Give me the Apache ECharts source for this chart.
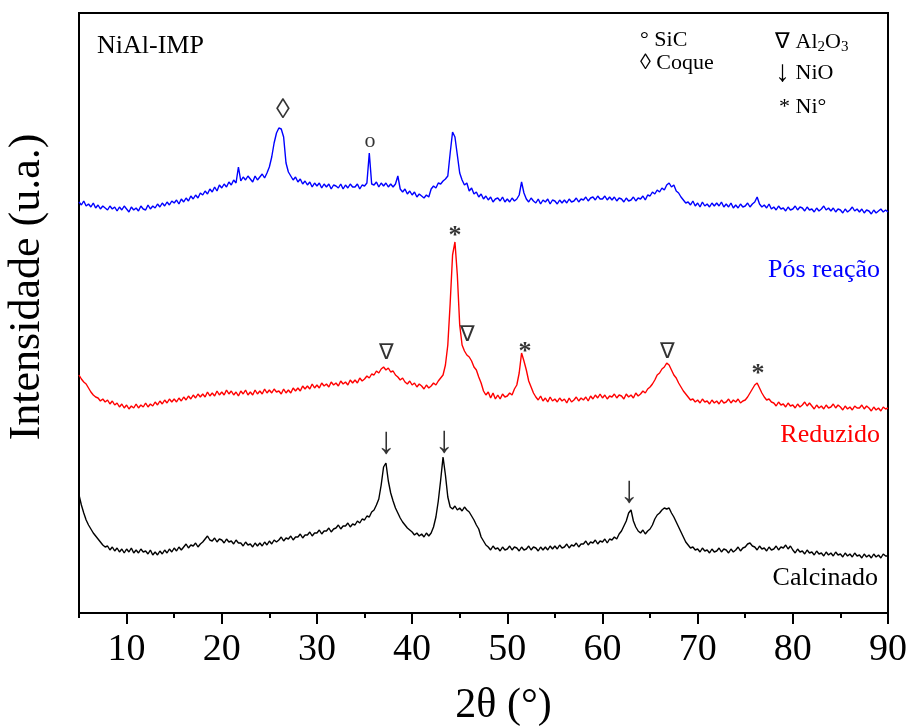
<!DOCTYPE html>
<html>
<head>
<meta charset="utf-8">
<script src="https://cdn.jsdelivr.net/npm/echarts@6/dist/echarts.min.js"></script>
<style>
  html, body { margin: 0; padding: 0; background: #fff; }
  #chart { width: 909px; height: 726px; }
</style>
</head>
<body>
<div id="chart"></div>
<script>
// XRD patterns of the NiAl-IMP catalyst (stacked, arbitrary intensity units)
// Scan grid: 5° to 90° (2θ) in 0.25° steps
const scanStart = 5;
const scanStep = 0.25;

// Calcined sample (bottom trace)
const calcinado = [
  118,108,100,93, 88,84,80,77, 74,71,68,66, 67,63,66,62, 65,61,64,60,
  64,61,65,60, 63,60,64,61, 62,59,63,58, 61,58,62,59, 63,60,64,61,
  65,62,66,63, 66,69,65,68, 67,70,66,69, 71,74,77,73, 72,75,71,74,
  73,70,74,71, 72,69,73,70, 70,67,71,68, 69,66,70,67, 70,67,71,68,
  72,69,73,71, 73,76,72,75, 74,77,73,76, 76,79,75,78, 78,81,77,80,
  80,83,79,82, 82,85,81,84, 85,88,84,87, 87,90,86,89, 88,92,90,94,
  93,97,96,101, 103,108,114,128, 146,150,132,120, 112,105,100,95, 91,88,85,83,
  81,78,80,77, 79,76,80,77, 80,86,96,112, 133,156,138,116, 106,104,107,103,
  105,102,106,103, 101,97,93,88, 84,76,72,68, 66,63,67,64, 65,62,66,63,
  64,67,63,66, 65,62,66,63, 64,67,63,66, 65,62,66,63, 66,63,67,64,
  67,64,68,65, 66,69,65,68, 67,70,66,69, 69,72,68,71, 70,73,69,72,
  71,74,70,74, 73,76,74,79, 82,87,92,100, 103,92,86,82, 80,83,79,82,
  84,88,94,98, 100,103,105,104, 105,100,96,91, 86,81,76,71, 68,65,66,63,
  64,61,65,62, 63,60,64,61, 62,65,61,64, 63,60,64,61, 63,66,62,65,
  66,69,70,67, 66,63,67,64, 65,62,66,63, 64,67,63,66, 65,68,64,67,
  63,60,64,61, 62,59,63,60, 61,58,62,59, 60,57,61,58, 60,57,61,58,
  59,56,60,57, 59,56,60,57, 58,55,59,56, 58,55,59,56, 58,55,59,57,
  57
];

// Reduced sample (middle trace)
const reduzido = [
  238,234,231,229, 225,221,218,216, 215,212,214,211, 213,209,212,208, 210,206,209,205,
  208,204,207,205, 209,205,208,206, 210,206,209,207, 211,208,212,209, 213,210,214,211,
  214,211,215,212, 216,213,217,214, 218,215,219,216, 219,216,221,217, 220,217,222,218,
  221,218,223,219, 222,218,221,217, 222,219,223,218, 221,218,223,219, 222,219,224,220,
  223,220,224,221, 222,219,224,220, 223,220,225,222, 225,222,227,224, 227,224,229,225,
  228,225,230,227, 229,226,231,228, 230,227,232,229, 231,228,233,230, 233,230,235,232,
  234,237,235,239, 238,242,240,244, 246,243,245,241, 242,238,236,233, 235,231,229,232,
  228,230,226,229, 227,224,228,225, 227,230,228,232, 235,238,248,268, 310,358,371,338,
  288,268,262,258, 256,252,246,243, 236,230,222,218, 221,215,220,214, 218,214,219,216,
  217,220,218,224, 228,240,260,252, 243,232,226,220, 216,213,217,212, 215,211,216,212,
  214,211,215,212, 214,210,215,211, 213,216,212,215, 213,216,212,217, 214,218,215,219,
  215,218,214,217, 216,219,215,218, 217,214,219,216, 218,215,220,217, 219,222,220,224,
  226,229,233,238, 240,244,246,250, 248,243,238,235, 230,226,222,219, 216,213,214,211,
  213,210,214,211, 212,209,213,210, 212,209,213,210, 211,214,210,213, 211,214,210,212,
  213,216,220,224, 228,230,225,220, 216,213,214,211, 210,207,211,208, 209,206,210,207,
  208,205,209,206, 208,211,207,210, 207,204,208,205, 207,204,208,205, 206,209,205,208,
  206,203,207,204, 206,203,207,205, 205,208,204,207, 205,202,206,203, 205,202,206,204,
  205
];

// After reaction (top trace)
const posReacao = [
  411,408,412,407, 409,406,410,405, 408,404,407,405, 403,407,404,406, 402,406,403,407,
  404,401,406,403, 405,402,407,404, 403,408,404,407, 405,409,406,410, 407,411,408,412,
  410,413,409,414, 411,415,412,417, 414,418,415,420, 418,422,419,424, 421,426,422,428,
  425,429,426,431, 428,433,430,446, 432,436,433,437, 434,431,437,433, 436,439,435,440,
  446,456,470,480, 485,484,476,450, 441,437,433,436, 431,434,429,432, 428,431,426,430,
  427,430,425,429, 426,429,424,428, 427,425,429,424, 428,425,429,426, 426,429,424,428,
  427,430,460,429, 428,431,426,430, 427,430,426,429, 426,429,437,424, 421,424,419,422,
  418,421,416,419, 417,415,418,416, 424,427,425,430, 429,432,434,437, 460,481,476,458,
  440,433,428,430, 422,425,419,421, 416,419,414,417, 413,416,411,414, 415,412,416,411,
  414,411,415,412, 414,418,431,420, 414,411,415,412, 410,414,409,413, 411,414,409,413,
  412,409,413,410, 413,410,414,411, 412,415,411,414, 413,416,412,415, 416,413,417,414,
  414,417,413,416, 413,416,412,415, 414,411,415,412, 413,416,412,415, 414,417,413,418,
  417,421,419,423, 421,425,423,428, 430,426,428,422, 420,416,413,410, 411,408,412,407,
  410,406,411,407, 409,406,410,407, 410,407,411,406, 409,406,410,405, 408,405,409,406,
  407,410,406,409, 411,416,409,406, 408,405,409,404, 406,403,407,404, 405,402,406,403,
  404,407,403,406, 405,402,406,403, 404,401,405,402, 404,407,403,405, 402,405,401,404,
  403,400,404,401, 403,406,402,404, 401,404,400,403, 402,399,403,400, 402,404,401,403,
  401
];

// Tick values of the 2θ axis
const majorTicks = [10, 20, 30, 40, 50, 60, 70, 80, 90];
const minorTicks = [5, 15, 25, 35, 45, 55, 65, 75, 85];

// Phase markers placed above the reflections
const markAngles  = [26.43, 35.57, 44.5, 37.26, 45.87, 51.86, 66.78, 76.34, 37.26, 43.35, 62.79];
const markHeights = [502,   472,   377,  260,   278,   261,   261,   239,   170,   171,   121];
const markSymbols = ['◊',  'o',   '*',  '∇',   '∇',   '*',   '∇',   '*',   '↓',   '↓',   '↓'];
const markFontSizes = { '◊': 28, 'o': 22, '*': 26, '∇': 22, '↓': 38 };

const serif = "'Liberation Serif', 'Times New Roman', serif";
const angles = calcinado.map((_, i) => scanStart + i * scanStep);
const toPairs = vals => vals.map((v, i) => [angles[i], v]);

const chart = echarts.init(document.getElementById('chart'), null, { renderer: 'canvas' });

const markData = markAngles.map((a, i) => ({
  value: [a, markHeights[i]],
  label: {
    formatter: markSymbols[i],
    fontSize: markFontSizes[markSymbols[i]],
    fontWeight: markSymbols[i] === '*' ? 'bold' : 'normal'
  }
}));

const lineSeries = (name, vals, color) => ({
  name,
  type: 'line',
  data: toPairs(vals),
  showSymbol: false,
  symbol: 'none',
  lineStyle: { color, width: 1.4 },
  itemStyle: { color },
  silent: true,
  z: 3
});

chart.setOption({
  animation: false,
  backgroundColor: '#fff',
  grid: {
    left: 79, right: 21, top: 13, bottom: 113,
    containLabel: false, outerBoundsMode: 'none',
    show: true, borderColor: '#000', borderWidth: 2, backgroundColor: 'transparent'
  },
  xAxis: [
    {
      type: 'value', min: 5, max: 90,
      name: '2θ (°)', nameLocation: 'middle', nameGap: 72,
      nameTextStyle: { fontFamily: serif, fontSize: 42, color: '#000', padding: [0, 0, 0, 40] },
      axisLine: { show: true, onZero: false, lineStyle: { color: '#000', width: 2 } },
      axisTick: { show: true, inside: false, length: 11, lineStyle: { color: '#000', width: 2 }, customValues: majorTicks },
      axisLabel: { show: true, margin: 18, fontFamily: serif, fontSize: 38, color: '#000', customValues: majorTicks },
      splitLine: { show: false }
    },
    {
      type: 'value', min: 5, max: 90, position: 'bottom',
      axisLine: { show: false },
      axisTick: { show: true, inside: false, length: 5, lineStyle: { color: '#000', width: 2 }, customValues: minorTicks },
      axisLabel: { show: false },
      splitLine: { show: false }
    }
  ],
  yAxis: {
    type: 'value', min: 0, max: 600,
    name: 'Intensidade (u.a.)', nameLocation: 'middle', nameGap: 30,
    nameTextStyle: { fontFamily: serif, fontSize: 44, color: '#000', padding: [0, 0, 0, 52] },
    axisLine: { show: true, onZero: false, lineStyle: { color: '#000', width: 2 } },
    axisTick: { show: false },
    axisLabel: { show: false },
    splitLine: { show: false }
  },
  series: [
    lineSeries('Calcinado', calcinado, '#000000'),
    lineSeries('Reduzido', reduzido, '#ff0000'),
    lineSeries('Pós reação', posReacao, '#0000ff'),
    {
      name: 'fases',
      type: 'scatter',
      data: markData,
      symbolSize: 0,
      silent: true,
      z: 4,
      label: {
        show: true, position: 'inside', color: '#000',
        fontFamily: serif, align: 'center', verticalAlign: 'middle'
      }
    }
  ],
  graphic: [
    { type: 'text', left: 97, top: 33, style: { text: 'NiAl-IMP', font: '26px ' + serif, fill: '#000' } },
    { type: 'text', x: 880, y: 270, style: { text: 'Pós reação', font: '26px ' + serif, fill: '#0000ff', align: 'right', verticalAlign: 'middle' } },
    { type: 'text', x: 880, y: 435, style: { text: 'Reduzido', font: '26px ' + serif, fill: '#ff0000', align: 'right', verticalAlign: 'middle' } },
    { type: 'text', x: 878, y: 578, style: { text: 'Calcinado', font: '26px ' + serif, fill: '#000', align: 'right', verticalAlign: 'middle' } },
    { type: 'text', x: 640, y: 40, style: { text: '° SiC', font: '22px ' + serif, fill: '#000', verticalAlign: 'middle' } },
    { type: 'text', x: 640, y: 63, style: { text: '◊ Coque', font: '22px ' + serif, fill: '#000', verticalAlign: 'middle' } },
    { type: 'text', x: 775, y: 42, style: {
        text: '∇ Al{s|2}O{s|3}', font: '22px ' + serif, fill: '#000', verticalAlign: 'middle',
        rich: { s: { fontSize: 15, fontFamily: serif, verticalAlign: 'bottom', padding: [10, 0, 0, 0] } }
    } },
    { type: 'text', x: 775, y: 73, style: {
        text: '{a|↓} NiO', font: '22px ' + serif, fill: '#000', verticalAlign: 'middle',
        rich: { a: { fontSize: 30, fontFamily: serif } }
    } },
    { type: 'text', x: 779, y: 107, style: { text: '* Ni°', font: '22px ' + serif, fill: '#000', verticalAlign: 'middle' } }
  ]
});
</script>
</body>
</html>
